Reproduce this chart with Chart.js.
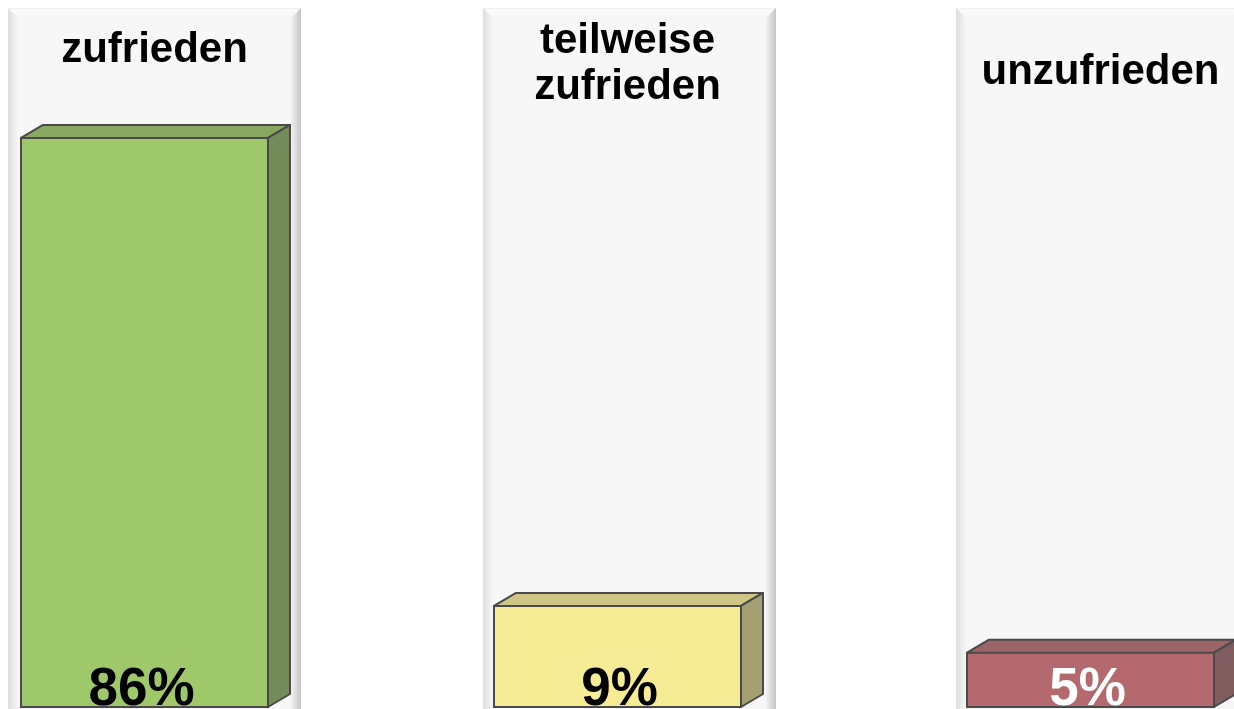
<!DOCTYPE html>
<html>
<head>
<meta charset="utf-8">
<script src="https://cdn.jsdelivr.net/npm/chart.js@4.4.1/dist/chart.umd.min.js"></script>
<style>
  html, body { margin: 0; padding: 0; background: #fff; overflow: hidden; }
  #wrap { position: relative; width: 1234px; height: 709px; }
</style>
</head>
<body>
<div id="wrap"><canvas id="cSatisfaction"></canvas></div>
<script>
/* ── Data ── */
const categories = ['zufrieden', ['teilweise', 'zufrieden'], 'unzufrieden'];
const shares     = [86, 9, 5];
const axisMax    = [100, 58, 59];

/* ── Styles ── */
const frontCol = ['#9fc86b', '#f6ec95', '#b3696e'];
const topCol   = ['#88a862', '#cfc685', '#9c6467'];
const sideCol  = ['#748c59', '#a59f72', '#805c5f'];
const pctCol   = ['#000000', '#000000', '#ffffff'];
const pctShift = [-3, 2, -3];
const panelShift = [0, 2, 2];
const titleBaseline = [62, 53, 84];
const EDGE = '#4a4a4a';
const DX = 22, DY = 13;
const FONT = '"Liberation Sans", Arial, sans-serif';

/* ── Bevelled background panels ── */
const panelPlugin = {
  id: 'panels',
  beforeDatasetsDraw(chart) {
    const ctx = chart.ctx;
    const H = chart.height;
    chart.data.datasets.forEach((ds, i) => {
      const bar = chart.getDatasetMeta(i).data[i];
      if (!bar) return;
      const { x, width } = bar.getProps(['x', 'width'], true);
      const L = x - width / 2 - 12 + panelShift[i], R = x + width / 2 + DX + 10 + panelShift[i];
      const T = 8, B = H + 20, b = 10;
      ctx.save();
      ctx.fillStyle = '#f7f7f7';
      ctx.fillRect(L, T, R - L, B - T);
      // top
      let g = ctx.createLinearGradient(0, T, 0, T + b);
      g.addColorStop(0, '#ececec'); g.addColorStop(0.2, '#fdfdfd'); g.addColorStop(1, '#f5f5f5');
      ctx.fillStyle = g;
      ctx.beginPath(); ctx.moveTo(L, T); ctx.lineTo(R, T); ctx.lineTo(R - b, T + b); ctx.lineTo(L + b, T + b); ctx.closePath(); ctx.fill();
      // left
      g = ctx.createLinearGradient(L, 0, L + b, 0);
      g.addColorStop(0, '#dedede'); g.addColorStop(1, '#f6f6f6');
      ctx.fillStyle = g;
      ctx.beginPath(); ctx.moveTo(L, T); ctx.lineTo(L + b, T + b); ctx.lineTo(L + b, B); ctx.lineTo(L, B); ctx.closePath(); ctx.fill();
      // right
      g = ctx.createLinearGradient(R, 0, R - b, 0);
      g.addColorStop(0, '#c4c4c4'); g.addColorStop(1, '#f2f2f2');
      ctx.fillStyle = g;
      ctx.beginPath(); ctx.moveTo(R, T); ctx.lineTo(R - b, T + b); ctx.lineTo(R - b, B); ctx.lineTo(R, B); ctx.closePath(); ctx.fill();
      ctx.restore();
    });
  },

  /* 3D top/side faces, then labels */
  afterDatasetsDraw(chart) {
    const ctx = chart.ctx;
    chart.data.datasets.forEach((ds, i) => {
      const bar = chart.getDatasetMeta(i).data[i];
      if (!bar) return;
      const { x, y, base, width } = bar.getProps(['x', 'y', 'base', 'width'], true);
      const x0 = x - width / 2 + 1, x1 = x + width / 2 - 1;
      ctx.save();
      ctx.lineWidth = 2;
      ctx.lineJoin = 'round';
      ctx.strokeStyle = EDGE;
      // top face
      ctx.beginPath();
      ctx.moveTo(x0, y + 1); ctx.lineTo(x0 + DX, y + 1 - DY); ctx.lineTo(x1 + DX, y + 1 - DY); ctx.lineTo(x1, y + 1);
      ctx.closePath();
      ctx.fillStyle = topCol[i]; ctx.fill(); ctx.stroke();
      // side face
      ctx.beginPath();
      ctx.moveTo(x1, y + 1); ctx.lineTo(x1 + DX, y + 1 - DY); ctx.lineTo(x1 + DX, base - 1 - DY); ctx.lineTo(x1, base - 1);
      ctx.closePath();
      ctx.fillStyle = sideCol[i]; ctx.fill(); ctx.stroke();

      // percentage
      ctx.font = 'bold 53px ' + FONT;
      ctx.textAlign = 'center';
      ctx.textBaseline = 'alphabetic';
      ctx.fillStyle = pctCol[i];
      ctx.fillText(shares[i] + '%', x + pctShift[i], 705);

      // category title
      const lines = [].concat(categories[i]);
      ctx.font = 'bold 42px ' + FONT;
      ctx.fillStyle = '#000';
      const cx = x + DX / 2 - 1;
      lines.forEach((t, k) => ctx.fillText(t, cx, titleBaseline[i] + k * 46));
      ctx.restore();
    });
  }
};

/* ── Datasets: one per panel, each on its own value axis ── */
const datasets = shares.map((v, i) => ({
  label: [].concat(categories[i]).join(' '),
  data: shares.map((s, j) => (j === i ? s : null)),
  yAxisID: 'y' + i,
  backgroundColor: frontCol[i],
  borderColor: EDGE,
  borderWidth: 2,
  borderSkipped: false,
  grouped: false,
  barPercentage: 0.5264,
  categoryPercentage: 1,
  clip: false
}));

const scales = {
  x: { type: 'category', offset: false, display: false, grid: { display: false } }
};
axisMax.forEach((m, i) => {
  scales['y' + i] = { type: 'linear', display: false, min: 0, max: m };
});

new Chart(document.getElementById('cSatisfaction'), {
  type: 'bar',
  data: { labels: categories, datasets },
  options: {
    responsive: true,
    maintainAspectRatio: false,
    animation: false,
    layout: { padding: { left: 144.5, right: 143.5, top: 44, bottom: 1 } },
    plugins: { legend: { display: false }, tooltip: { enabled: false } },
    scales
  },
  plugins: [panelPlugin]
});
</script>
</body>
</html>
